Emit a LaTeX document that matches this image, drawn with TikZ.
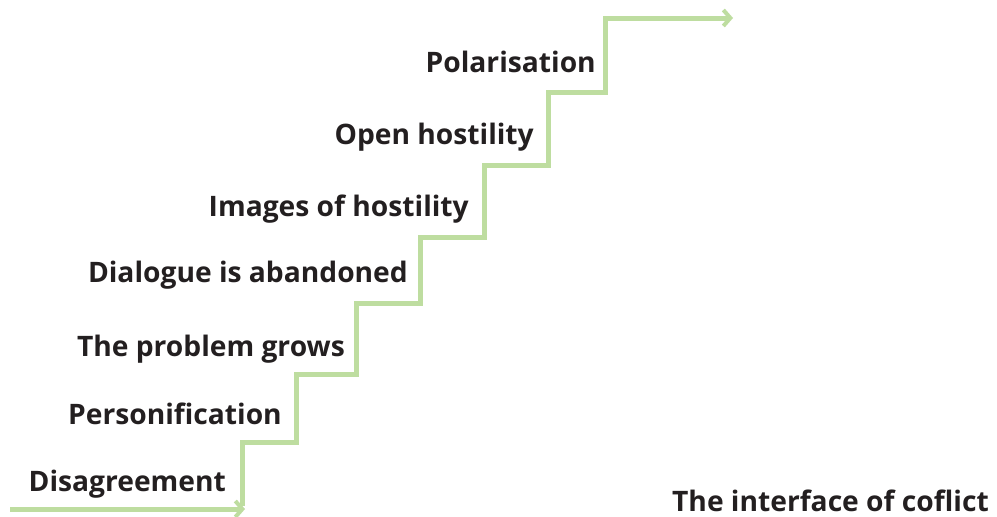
\documentclass[tikz,border=0pt]{standalone}
\usepackage{fontspec}
\setmainfont{Open Sans}
\usetikzlibrary{arrows.meta}

\definecolor{stairgreen}{RGB}{190,221,160}
\definecolor{labelblack}{RGB}{35,31,32}

\tikzset{
  stair/.style={draw=stairgreen,line width=5pt,line join=miter},
  stairtip/.style={-{Straight Barb[length=7pt,width=16pt,line width=4pt]}},
  steplabel/.style={anchor=base east,inner sep=0pt,text=labelblack,
    font=\bfseries\fontsize{28.2}{33}\selectfont},
}

\begin{document}
\begin{tikzpicture}[x=1pt,y=-1pt]
  \useasboundingbox (0,0) rectangle (997,517);

  % corners of the stairs
  \coordinate (start) at (10,509);
  \coordinate (ground) at (245,509);
  \coordinate (c0) at (242,506);
  \coordinate (c1) at (296,442);
  \coordinate (c2) at (356,374);
  \coordinate (c3) at (420,303);
  \coordinate (c4) at (484,237);
  \coordinate (c5) at (548,165);
  \coordinate (c6) at (605,92);
  \coordinate (c7) at (733,18);

  \draw[stair,stairtip] (start) -- (ground);
  \draw[stair,stairtip] (c0) |- (c1) |- (c2) |- (c3) |- (c4) |- (c5) |- (c6) |- (c7);

  \node[steplabel] (disagree) at (226,491) {Disagreement};
  \node[steplabel] (person) at (282,424) {Personification};
  \node[steplabel] (grows) at (345,356) {The problem grows};
  \node[steplabel] (dialogue) at (408,282) {Dialogue is abandoned};
  \node[steplabel] (images) at (469,216) {Images of hostility};
  \node[steplabel] (open) at (534,144) {Open hostility};
  \node[steplabel] (polar) at (596,72) {Polarisation};
  \node[steplabel] (title) at (989,511) {The interface of coflict};
\end{tikzpicture}
\end{document}
